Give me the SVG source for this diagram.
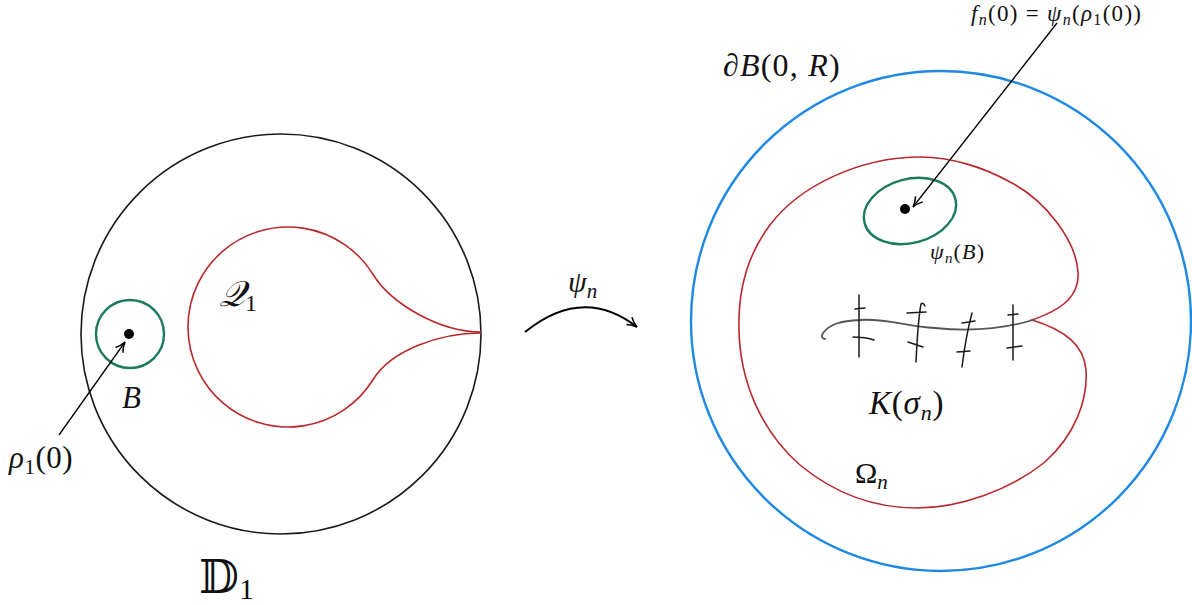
<svg xmlns="http://www.w3.org/2000/svg" width="1192" height="605" viewBox="0 0 1192 605">
<style>
  .txt{font-family:"Liberation Serif","DejaVu Serif",serif;fill:#111}
  .it{font-style:italic}
  .blk{fill:none;stroke:#1a1a1a;stroke-width:1.6}
  .red{fill:none;stroke:#b8282c;stroke-width:1.6}
  .grn{fill:none;stroke:#1b7a5c;stroke-width:2.4}
  .blu{fill:none;stroke:#1e88e5;stroke-width:2.4}
  .dot{fill:#000}
  .ink{fill:none;stroke:#1a1a1a;stroke-width:1.5;stroke-linecap:round}
  .arr{fill:none;stroke:#000;stroke-width:1.3}
</style>
<defs>
  <marker id="vhead" viewBox="0 0 12 12" refX="11" refY="6" markerWidth="12" markerHeight="12" markerUnits="userSpaceOnUse" orient="auto">
    <path d="M1,1.5 Q6,5 11,6 Q6,7 1,10.5" fill="none" stroke="#000" stroke-width="1.5"/>
  </marker>
</defs>
<rect width="1192" height="605" fill="#fff"/>

<g id="disk-D1">
  <circle class="blk" cx="281" cy="334" r="200"/>
</g>
<g id="Q1-region">
  <path class="red" d="M481,332 C440,332 391,304 372.8,274 A100,100 0 1,0 372.8,380 C391,350 440,333 481,333"/>
</g>
<g id="ball-B">
  <circle class="grn" cx="130" cy="334" r="34"/>
  <circle class="dot" cx="129" cy="334" r="5"/>
</g>

<g id="disk-BR">
  <circle class="blu" cx="941" cy="321" r="250"/>
</g>
<g id="Omega-n">
  <path class="red" d="M1032,320 C1055,312 1080,300 1078,272 C1076,240 1045,200 1010,182 C985,168 950,156 917,157 C860,158 800,185 770,225 C745,258 738,295 739,330 C740,380 760,430 800,465 C840,498 880,508 917,508 C960,508 1010,490 1045,462 C1075,435 1088,400 1086,370 C1084,345 1065,330 1032,320 Z"/>
</g>
<g id="psi-B">
  <ellipse class="grn" cx="910" cy="211" rx="47" ry="32" transform="rotate(-15 910 211)"/>
  <circle class="dot" cx="905" cy="209" r="5"/>
</g>
<g id="K-sigma">
  <path d="M825,339 Q820,338 823,333 C830,324 840,321 860,320 C885,318 905,326 935,328 C965,331 1000,330 1033,320" fill="none" stroke="#555" stroke-width="1.8" stroke-linecap="round"/>
  <path class="ink" d="M859,295 L859,357 M855,309 L865,308 M853,337 Q866,337 874,340"/>
  <path class="ink" d="M925,306 Q923,302 921,304 Q918,320 916,362 M907,313 L926,312 M908,342 L923,347"/>
  <path class="ink" d="M972,313 Q966,335 962,367 M962,323 L975,321 M957,352 L970,351"/>
  <path class="ink" d="M1013,305 L1013,360 M1008,315 L1018,314 M1007,348 L1022,346"/>
</g>

<g id="connectors">
  <path class="arr" d="M59,435 L125,342" marker-end="url(#vhead)"/>
  <path class="arr" d="M1057,23 L913,207" marker-end="url(#vhead)"/>
  <path d="M525,332 Q583,285 637,327" fill="none" stroke="#000" stroke-width="2" marker-end="url(#vhead)"/>
</g>

<g id="labels">
  <text class="txt it" x="219" y="306" font-size="36">𝒬<tspan class="txt" font-style="normal" font-size="24" dy="5">1</tspan></text>
  <text class="txt it" x="122" y="408" font-size="31">B</text>
  <text class="txt" x="9" y="468" font-size="31" letter-spacing="0.5"><tspan class="it">ρ</tspan><tspan font-size="21" dy="6">1</tspan><tspan dy="-6">(0)</tspan></text>
  <text class="txt" x="199" y="593" font-size="46">𝔻<tspan font-size="30" dy="6">1</tspan></text>
  <text class="txt" x="568" y="292" font-size="30"><tspan class="it">ψ</tspan><tspan class="it" font-size="21" dy="6">n</tspan></text>
  <text class="txt" x="723" y="76" font-size="32" letter-spacing="1.2">∂<tspan class="it">B</tspan>(0, <tspan class="it">R</tspan>)</text>
  <text class="txt" x="971" y="21" font-size="23" letter-spacing="1.3"><tspan class="it">f</tspan><tspan class="it" font-size="16" dy="4">n</tspan><tspan dy="-4">(0) = </tspan><tspan class="it">ψ</tspan><tspan class="it" font-size="16" dy="4">n</tspan><tspan dy="-4">(</tspan><tspan class="it">ρ</tspan><tspan font-size="16" dy="4">1</tspan><tspan dy="-4">(0))</tspan></text>
  <text class="txt" x="930" y="259" font-size="22" letter-spacing="1.2"><tspan class="it">ψ</tspan><tspan class="it" font-size="15" dy="4">n</tspan><tspan dy="-4">(</tspan><tspan class="it">B</tspan>)</text>
  <text class="txt" x="869" y="414" font-size="33" letter-spacing="0.8"><tspan class="it">K</tspan>(<tspan class="it">σ</tspan><tspan class="it" font-size="22" dy="6">n</tspan><tspan dy="-6">)</tspan></text>
  <text class="txt" x="855" y="483" font-size="30">Ω<tspan class="it" font-size="21" dy="6">n</tspan></text>
</g>
</svg>
